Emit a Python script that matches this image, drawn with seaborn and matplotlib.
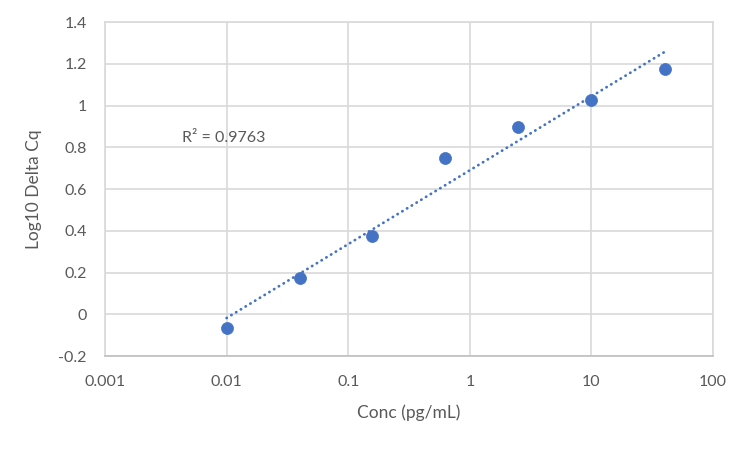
import numpy as np
import pandas as pd
import matplotlib
matplotlib.use("Agg")
import matplotlib.pyplot as plt
import seaborn as sns

# values
conc = [0.01, 0.04, 0.15625, 0.625, 2.5, 10, 40]
log_delta_cq = [-0.066, 0.174, 0.375, 0.749, 0.897, 1.026, 1.175]
x_ticks = [0.001, 0.01, 0.1, 1, 10, 100]
x_tick_labels = ["0.001", "0.01", "0.1", "1", "10", "100"]
y_ticks = [-0.2, 0, 0.2, 0.4, 0.6, 0.8, 1.0, 1.2, 1.4]
y_tick_labels = ["-0.2", "0", "0.2", "0.4", "0.6", "0.8", "1", "1.2", "1.4"]
r2_label = "R² = 0.9763"

blue = "#4472C4"
grid_col = "#D9D9D9"
text_col = "#595959"

df = pd.DataFrame({"Conc": conc, "LogDeltaCq": log_delta_cq})

sns.set_style("white")
plt.rcParams["font.family"] = ["Lato", "DejaVu Sans"]

fig, ax = plt.subplots(figsize=(7.5, 4.49), dpi=100)
fig.subplots_adjust(left=0.14, right=0.9507, top=0.951, bottom=0.2071)

ax.set_xscale("log")
ax.set_xlim(0.001, 100)
ax.set_ylim(-0.2, 1.4)

# logarithmic trendline (y ~ log x), dotted like Excel
sns.regplot(data=df, x="Conc", y="LogDeltaCq", logx=True, scatter=False, ci=None,
            truncate=True, ax=ax,
            line_kws=dict(color=blue, lw=2.0, linestyle=(0, (0.1, 1.9)),
                          dash_capstyle="round", zorder=3))
sns.scatterplot(data=df, x="Conc", y="LogDeltaCq", ax=ax, color=blue, s=75,
                edgecolor=blue, linewidth=0.5, zorder=4)

ax.set_xticks(x_ticks)
ax.set_xticklabels(x_tick_labels)
ax.set_yticks(y_ticks)
ax.set_yticklabels(y_tick_labels)
ax.minorticks_off()
ax.tick_params(axis="x", length=0, pad=14, labelsize=11.5, labelcolor=text_col)
ax.tick_params(axis="y", length=0, pad=13, labelsize=11.5, labelcolor=text_col)

ax.grid(True, color=grid_col, lw=1.2)
ax.set_axisbelow(True)
for sp in ax.spines.values():
    sp.set_color(grid_col)
    sp.set_linewidth(1.2)
ax.spines["bottom"].set_color("#BFBFBF")

ax.set_xlabel("Conc (pg/mL)", fontsize=12.5, color=text_col, labelpad=11)
ax.set_ylabel("Log10 Delta Cq", fontsize=12.5, color=text_col, labelpad=12)

ax.text(0.0043, 0.844, r2_label, fontsize=11.5, color=text_col, ha="left", va="center")

fig.savefig("out.png", dpi=100)
